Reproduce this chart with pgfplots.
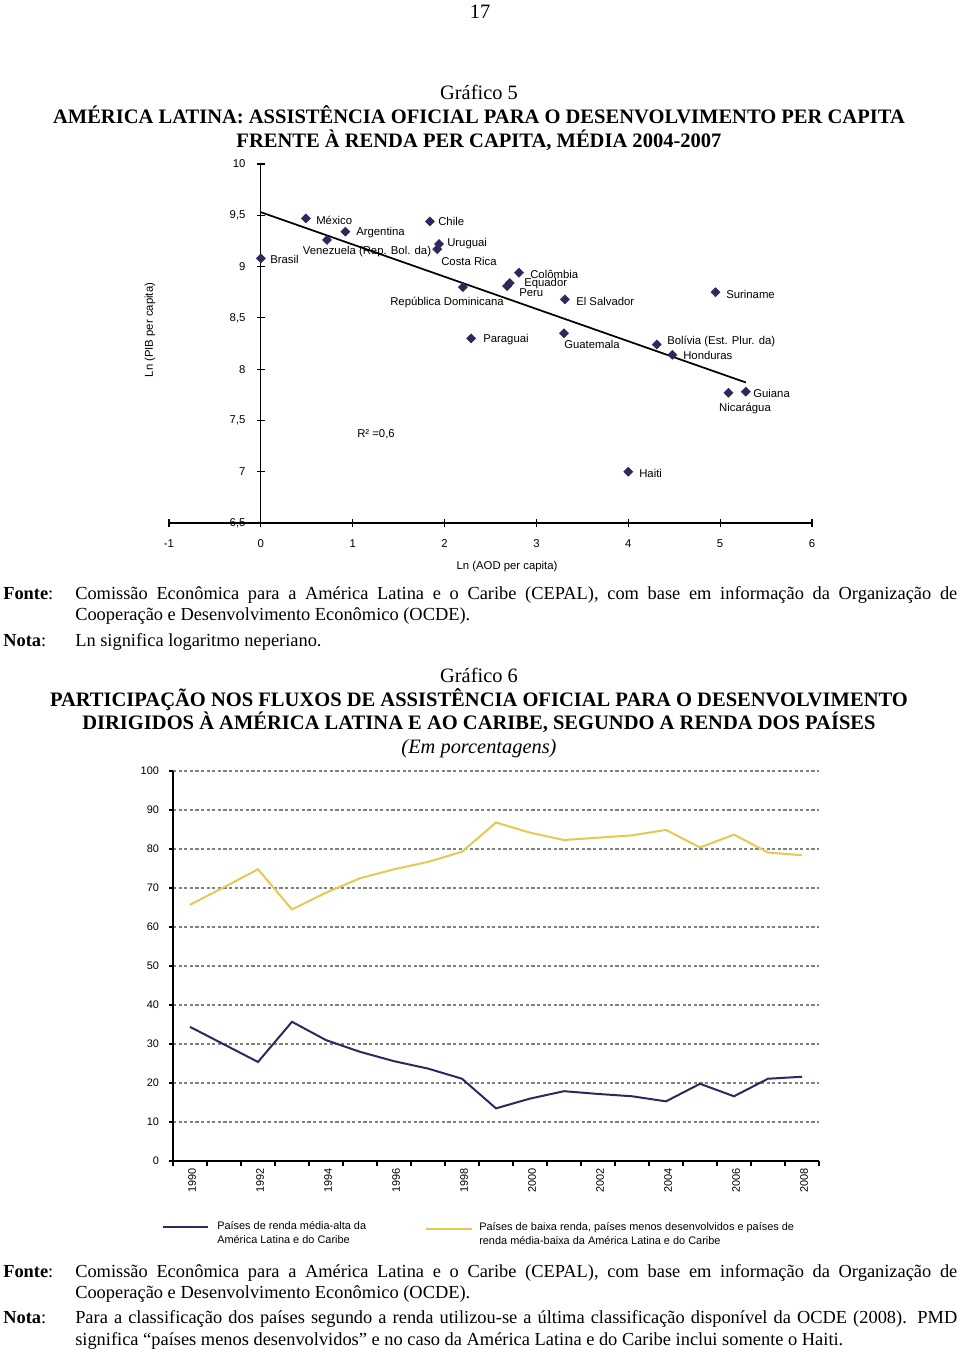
\documentclass[border=0pt]{standalone}
\usepackage{fontspec}
\setmainfont{Liberation Serif}
\newfontfamily\chartfont{Liberation Sans}
\usepackage{pgfplots}
\pgfplotsset{compat=1.18}
\definecolor{navy}{RGB}{43,42,94}
\definecolor{gold}{RGB}{232,200,78}
\newcommand\body{\fontsize{13.8}{15.75}\selectfont}
\newcommand\ttl{\fontsize{15.3}{18}\selectfont}
\newcommand\cf{\chartfont\fontsize{8.5}{10}\selectfont}
\newcommand\cfs{\chartfont\fontsize{8.2}{10}\selectfont}
\begin{document}
\begin{tikzpicture}[x=0.75pt,y=-0.75pt]
\path[use as bounding box] (0,0) rectangle (960,1352);

% ---------- page text ----------
\node[anchor=base, inner sep=0] at (480,19) {\ttl 17};
\node[anchor=base, inner sep=0] at (479,100) {\ttl Gráfico 5};
\node[anchor=base, inner sep=0] at (479,124) {\fontsize{15.4}{18}\selectfont\bfseries AMÉRICA LATINA: ASSISTÊNCIA OFICIAL PARA O DESENVOLVIMENTO PER CAPITA};
\node[anchor=base, inner sep=0] at (479,148) {\fontsize{15.4}{18}\selectfont\bfseries FRENTE À RENDA PER CAPITA, MÉDIA 2004-2007};

% ---------- chart 1 ----------
\begin{axis}[
  at={(126.75pt,-392.25pt)}, anchor=south west,
  scale only axis, width=482.25pt, height=269.25pt,
  xmin=-1, xmax=6, ymin=6.5, ymax=10,
  axis x line=bottom, axis y line=center,
  axis line style={-, black, line width=0.8pt},
  hide obscured x ticks=false, hide obscured y ticks=false,
  xtick={-1,0,1,2,3,4,5,6},
  ytick={6.5,7,7.5,8,8.5,9,9.5,10},
  yticklabels={{6,5},7,{7,5},8,{8,5},9,{9,5},10},
  tick align=center, major tick length=6pt,
  tick style={black, line width=0.8pt},
  ticklabel style={font=\cf},
  xticklabel style={yshift=-6pt},
  yticklabel style={xshift=-5pt},
  /pgf/number format/assume math mode=true,
  clip=false,
]
\addplot[only marks, mark=square*, mark size=2.4pt, mark options={rotate=45, fill=navy, draw=navy}] coordinates {
 (0.00,9.08) (0.49,9.47) (0.92,9.34) (0.72,9.26) (1.84,9.44) (1.94,9.22)
 (1.92,9.17) (2.20,8.80) (2.29,8.30) (2.81,8.94) (2.71,8.84) (2.68,8.81)
 (3.31,8.68) (3.30,8.35) (4.95,8.75) (4.31,8.24) (4.48,8.14) (5.09,7.77)
 (5.28,7.78) (4.00,7.00)
};
\addplot[black, line width=1.3pt] coordinates {(0,9.53) (5.28,7.87)};
\end{axis}

\begin{scope}[every node/.style={inner sep=0, font=\cf}]
\node[anchor=west] at (270,259) {Brasil};
\node[anchor=west] at (316,220) {México};
\node[anchor=west] at (356,233) {Argentina};
\node at (367,252) {Venezuela (Rep. Bol. da)};
\node[anchor=west] at (438,221) {Chile};
\node[anchor=west] at (447,244) {Uruguai};
\node[anchor=west] at (441,261) {Costa Rica};
\node at (447,303) {República Dominicana};
\node[anchor=west] at (483,340) {Paraguai};
\node[anchor=west] at (530,274) {Colômbia};
\node[anchor=west] at (524,284) {Equador};
\node[anchor=west] at (519,293) {Peru};
\node[anchor=west] at (576,301) {El Salvador};
\node[anchor=west] at (564,344) {Guatemala};
\node[anchor=west] at (726,294) {Suriname};
\node[anchor=west] at (667,341) {Bolívia (Est. Plur. da)};
\node[anchor=west] at (683,355) {Honduras};
\node[anchor=west] at (753,393) {Guiana};
\node at (745,409) {Nicarágua};
\node[anchor=west] at (639,473) {Haiti};
\node at (376,434) {R² =0,6};
\node[rotate=90] at (150,330) {Ln (PIB per capita)};
\node at (507,567) {Ln (AOD per capita)};
\end{scope}

% ---------- fonte / nota 1 ----------
\node[anchor=base west, inner sep=0] at (3,599) {\body\textbf{Fonte}:};
\node[anchor=base west, inner sep=0] at (75,599) {\body\makebox[661.5pt][s]{Comissão Econômica para a América Latina e o Caribe (CEPAL), com base em informação da Organização de}};
\node[anchor=base west, inner sep=0] at (75,620) {\body Cooperação e Desenvolvimento Econômico (OCDE).};
\node[anchor=base west, inner sep=0] at (3,646) {\body\textbf{Nota}:};
\node[anchor=base west, inner sep=0] at (75,646) {\body Ln significa logaritmo neperiano.};

% ---------- chart 2 titles ----------
\node[anchor=base, inner sep=0] at (479,682) {\ttl Gráfico 6};
\node[anchor=base, inner sep=0] at (479,706) {\fontsize{15.4}{18}\selectfont\bfseries PARTICIPAÇÃO NOS FLUXOS DE ASSISTÊNCIA OFICIAL PARA O DESENVOLVIMENTO};
\node[anchor=base, inner sep=0] at (479,729) {\fontsize{15.4}{18}\selectfont\bfseries DIRIGIDOS À AMÉRICA LATINA E AO CARIBE, SEGUNDO A RENDA DOS PAÍSES};
\node[anchor=base, inner sep=0] at (479,753) {\ttl\itshape (Em porcentagens)};

% ---------- chart 2 ----------
\begin{axis}[
  at={(129.75pt,-870.75pt)}, anchor=south west,
  scale only axis, width=484.5pt, height=292.5pt,
  xmin=1989.5, xmax=2008.5, ymin=0, ymax=100,
  axis x line=bottom, axis y line=left,
  axis line style={-, black, line width=0.8pt},
  tick align=outside,
  ytick={0,10,...,100},
  xtick={1990,1992,1994,1996,1998,2000,2002,2004,2006,2008},
  xticklabels={1990,1992,1994,1996,1998,2000,2002,2004,2006,2008},
  minor xtick={1989.5,1990.5,...,2008.5},
  major tick length=3pt, minor tick length=4pt,
  tick style={black, line width=0.8pt},
  every major x tick/.append style={draw=none},
  ymajorgrids,
  grid style={gray, dash pattern=on 2.4pt off 1.8pt, line width=0.9pt},
  ticklabel style={font=\cfs},
  xticklabel style={rotate=90, anchor=east, yshift=-1.5pt, xshift=1pt},
  yticklabel style={xshift=-4pt},
  /pgf/number format/assume math mode=true,
  clip=false,
]
\addplot[navy, line width=1.5pt] coordinates {
 (1990,34.4) (1991,29.9) (1992,25.4) (1993,35.7) (1994,31.0) (1995,28.0)
 (1996,25.6) (1997,23.7) (1998,21.1) (1999,13.5) (2000,16.0) (2001,17.9)
 (2002,17.2) (2003,16.6) (2004,15.3) (2005,19.8) (2006,16.6) (2007,21.1)
 (2008,21.6)
};
\addplot[gold, line width=1.5pt] coordinates {
 (1990,65.7) (1991,70.2) (1992,74.8) (1993,64.5) (1994,68.8) (1995,72.5)
 (1996,74.8) (1997,76.7) (1998,79.3) (1999,86.8) (2000,84.2) (2001,82.3)
 (2002,82.9) (2003,83.5) (2004,84.9) (2005,80.4) (2006,83.7) (2007,79.1)
 (2008,78.4)
};
\end{axis}

% ---------- legend ----------
\draw[navy, line width=1.5pt] (163,1227) -- (208,1227);
\draw[gold, line width=1.5pt] (426,1229) -- (472,1229);
\begin{scope}[every node/.style={inner sep=0, anchor=west, font=\cfs}]
\node at (217,1226) {Países de renda média-alta da};
\node at (217,1240) {América Latina e do Caribe};
\node at (479,1228) {Países de baixa renda, países menos desenvolvidos e países de};
\node at (479,1241) {renda média-baixa da América Latina e do Caribe};
\end{scope}

% ---------- fonte / nota 2 ----------
\node[anchor=base west, inner sep=0] at (3,1277) {\body\textbf{Fonte}:};
\node[anchor=base west, inner sep=0] at (75,1277) {\body\makebox[661.5pt][s]{Comissão Econômica para a América Latina e o Caribe (CEPAL), com base em informação da Organização de}};
\node[anchor=base west, inner sep=0] at (75,1298) {\body Cooperação e Desenvolvimento Econômico (OCDE).};
\node[anchor=base west, inner sep=0] at (3,1323) {\body\textbf{Nota}:};
\node[anchor=base west, inner sep=0] at (75,1323) {\body\makebox[661.5pt][s]{Para a classificação dos países segundo a renda utilizou-se a última classificação disponível da OCDE (2008). PMD}};
\node[anchor=base west, inner sep=0] at (75,1345) {\body significa “países menos desenvolvidos” e no caso da América Latina e do Caribe inclui somente o Haiti.};
\end{tikzpicture}
\end{document}
